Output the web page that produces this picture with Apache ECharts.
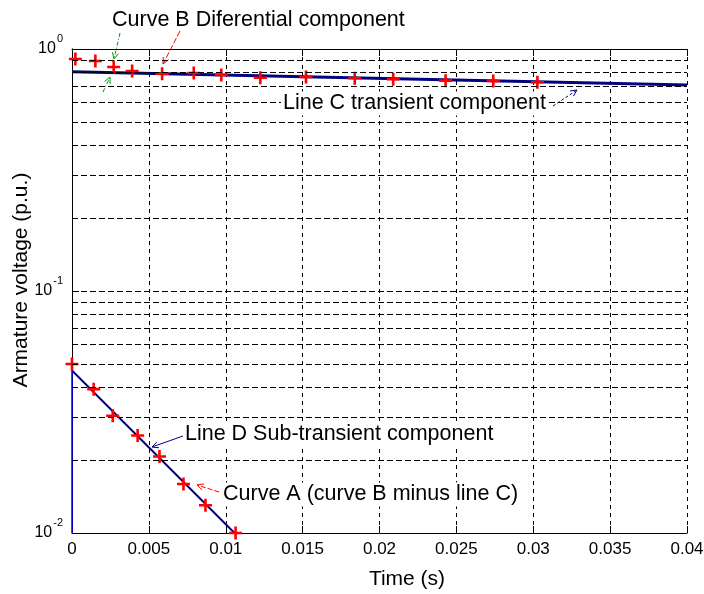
<!DOCTYPE html>
<html>
<head>
<meta charset="utf-8">
<script src="https://cdn.jsdelivr.net/npm/echarts@6/dist/echarts.min.js"></script>
<style>
  html, body { margin: 0; padding: 0; background: #fff; }
  #chart { width: 704px; height: 594px; }
</style>
</head>
<body>
<div id="chart"></div>
<script>
// Curve B: measured armature voltage after the fault (p.u.)
const curveBTime = [0.00022, 0.00152, 0.00271, 0.00391, 0.00586, 0.00792, 0.00971, 0.01225, 0.01522, 0.01839, 0.02089, 0.02430, 0.02740, 0.03027];
const curveBVolt = [0.909, 0.892, 0.843, 0.811, 0.790, 0.796, 0.781, 0.761, 0.766, 0.757, 0.750, 0.740, 0.738, 0.729];

// Curve A: curve B minus line C
const curveATime = [0, 0.00141, 0.00265, 0.00427, 0.00569, 0.00725, 0.00868, 0.01064];
const curveAVolt = [0.0499, 0.0393, 0.0305, 0.0253, 0.0207, 0.01594, 0.01302, 0.0100];

// Line C: transient component (straight on the log scale)
const lineCTime = [0, 0.04];
const lineCVolt = [0.806, 0.710];

// Line D: sub-transient component
const lineDTime = [0, 0.01057];
const lineDVolt = [0.0469, 0.0100];

// Vertical segment of line D at t = 0
const dropTime = [0, 0];
const dropVolt = [0.0469, 0.0100];

// Horizontal dashed grid levels of the log axis
const logGridLevels = [0.02, 0.03, 0.04, 0.05, 0.06, 0.07, 0.08, 0.09, 0.1,
                       0.2, 0.3, 0.4, 0.5, 0.6, 0.7, 0.8, 0.9];

// Axis ranges
const timeMin = 0, timeMax = 0.04, timeStep = 0.005;
const voltMin = 0.01, voltMax = 1;

const FONT = '"Liberation Sans", Arial, sans-serif';
const NAVY = '#000080';
const RED = '#ff0000';
const GREEN = '#009900';
const PLUS = 'path://M4,0H6V4H10V6H6V10H4V6H0V4H4Z';

const pairs = (xs, ys) => xs.map((x, i) => [x, ys[i]]);

const chart = echarts.init(document.getElementById('chart'), null, { renderer: 'canvas' });

// Annotation arrow: a thin line with an open head at its end point
function arrow(x1, y1, x2, y2, color, dash) {
  const a = Math.atan2(y2 - y1, x2 - x1);
  const L = 7, w = 0.45;
  const h1 = [x2 - L * Math.cos(a - w), y2 - L * Math.sin(a - w)];
  const h2 = [x2 - L * Math.cos(a + w), y2 - L * Math.sin(a + w)];
  return {
    type: 'group', z: 100,
    children: [
      { type: 'line', shape: { x1, y1, x2, y2 },
        style: { stroke: color, lineWidth: 1, lineDash: dash || null } },
      { type: 'polyline', shape: { points: [h1, [x2, y2], h2] },
        style: { stroke: color, lineWidth: 1, fill: null } }
    ]
  };
}

function note(text, x, y, boxed) {
  return {
    type: 'text', z: 100, x, y,
    style: {
      text, font: '21.5px ' + FONT, fill: '#000',
      verticalAlign: 'middle', align: 'left',
      backgroundColor: boxed ? '#fff' : null,
      padding: boxed ? [1, 2, 1, 2] : 0
    }
  };
}

const option = {
  backgroundColor: '#fff',
  animation: false,
  grid: { left: 72, right: 17, top: 49, bottom: 61, containLabel: false, outerBoundsMode: 'none' },
  xAxis: [
    {
      type: 'value', position: 'bottom',
      min: timeMin, max: timeMax, interval: timeStep,
      name: 'Time (s)', nameLocation: 'middle', nameGap: 36, nameMoveOverlap: false,
      nameTextStyle: { fontFamily: FONT, fontSize: 21, color: '#000', padding: [0, 0, 0, 55] },
      axisLine: { show: true, lineStyle: { color: '#000', width: 1 } },
      axisTick: { show: true, inside: true, length: 7, lineStyle: { color: '#000' } },
      axisLabel: { fontFamily: FONT, fontSize: 17, color: '#000', margin: 8,
                   showMinLabel: true, showMaxLabel: true },
      splitLine: { show: true, lineStyle: { color: '#000', width: 1, type: [4, 4] } }
    },
    {
      type: 'value', position: 'top',
      min: timeMin, max: timeMax, interval: timeStep,
      axisLine: { show: true, lineStyle: { color: '#000', width: 1 } },
      axisTick: { show: true, inside: true, length: 7, lineStyle: { color: '#000' } },
      axisLabel: { show: false },
      splitLine: { show: false }
    }
  ],
  yAxis: [
    {
      type: 'log', logBase: 10, position: 'left',
      min: voltMin, max: voltMax,
      name: 'Armature voltage (p.u.)', nameLocation: 'middle', nameGap: 40, nameRotate: 90,
      nameMoveOverlap: false,
      nameTextStyle: { fontFamily: FONT, fontSize: 21, color: '#000', padding: [0, 0, 0, 22] },
      axisLine: { show: true, lineStyle: { color: '#000', width: 1 } },
      axisTick: { show: true, inside: true, length: 7, lineStyle: { color: '#000' } },
      splitLine: { show: false },
      axisLabel: {
        margin: 9,
        formatter: v => '{b|10}{s|' + Math.round(Math.log10(v)) + '}',
        rich: {
          b: { fontFamily: FONT, fontSize: 16, color: '#000', lineHeight: 16 },
          s: { fontFamily: FONT, fontSize: 11, color: '#000', lineHeight: 11,
               padding: [0, 0, 20, 1] }
        }
      }
    },
    {
      type: 'log', logBase: 10, position: 'right',
      min: voltMin, max: voltMax,
      axisLine: { show: true, lineStyle: { color: '#000', width: 1 } },
      axisTick: { show: false },
      axisLabel: { show: false },
      splitLine: { show: false }
    }
  ],
  graphic: [
    note('Curve B Diferential component', 112, 20.5, false),
    note('Line C transient component', 281, 103.5, true),
    note('Line D Sub-transient component', 183, 434, true),
    note('Curve A (curve B minus line C)', 221, 494.5, true),
    arrow(120, 33, 114, 59, GREEN, [4, 2, 1, 2]),
    arrow(103, 92, 110, 77, GREEN, [4, 2, 1, 2]),
    arrow(180, 31, 163, 64, RED, [6, 2]),
    arrow(553, 106, 577, 90, NAVY, [3, 2]),
    arrow(183, 436, 152, 447, NAVY, null),
    arrow(219, 492, 197, 485, RED, [5, 2])
  ],
  series: [
    {
      // dashed horizontal grid of the log axis
      name: 'grid', type: 'line', data: [], z: 1, silent: true,
      markLine: {
        silent: true, symbol: ['none', 'none'], label: { show: false },
        animation: false,
        lineStyle: { color: '#000', width: 1, type: [6, 3] },
        data: logGridLevels.map(v => ({ yAxis: v }))
      }
    },
    {
      name: 'Line C', type: 'line', data: pairs(lineCTime, lineCVolt),
      showSymbol: false, symbol: 'none', z: 3,
      lineStyle: { color: NAVY, width: 3 }
    },
    {
      name: 'Line D', type: 'line', data: pairs(lineDTime, lineDVolt),
      showSymbol: false, symbol: 'none', z: 3,
      lineStyle: { color: NAVY, width: 2 }
    },
    {
      name: 'Line D start', type: 'line', data: pairs(dropTime, dropVolt),
      showSymbol: false, symbol: 'none', z: 3,
      lineStyle: { color: '#0000ff', width: 1.5 }
    },
    {
      name: 'Curve B', type: 'scatter', data: pairs(curveBTime, curveBVolt),
      symbol: PLUS, symbolSize: 13, clip: false, z: 4,
      itemStyle: { color: RED, opacity: 1 }
    },
    {
      name: 'Curve A', type: 'scatter', data: pairs(curveATime, curveAVolt),
      symbol: PLUS, symbolSize: 13, clip: false, z: 4,
      itemStyle: { color: RED, opacity: 1 }
    }
  ]
};

chart.setOption(option);
</script>
</body>
</html>
